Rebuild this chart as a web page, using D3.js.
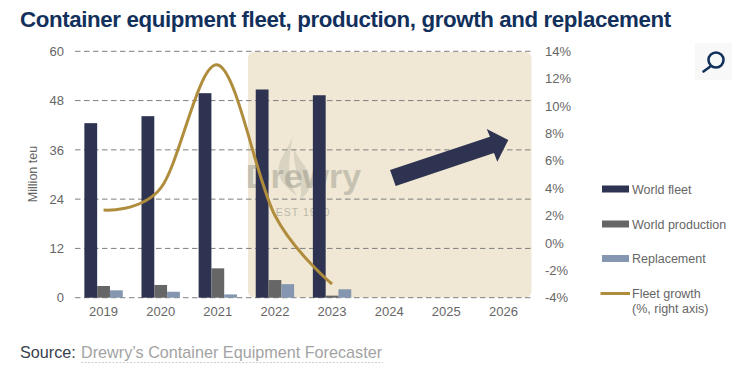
<!DOCTYPE html>
<html>
<head>
<meta charset="utf-8">
<script src="https://cdn.jsdelivr.net/npm/d3@7"></script>
<style>
  html, body { margin: 0; padding: 0; background: #fff; }
  text { font-family: "Liberation Sans", Arial, sans-serif; }
</style>
</head>
<body>
<svg id="drawing_region" width="750" height="375"></svg>
<script>
const years = ["2019", "2020", "2021", "2022", "2023", "2024", "2025", "2026"];
const world_fleet = [42.5, 44.2, 49.8, 50.7, 49.3];
const world_production = [2.85, 3.1, 7.15, 4.3, 0.5];
const replacement = [1.8, 1.45, 0.8, 3.3, 2.05];
const fleet_growth = [2.4, 4.0, 13.0, 2.0, -3.0];
const left_ticks = [0, 12, 24, 36, 48, 60];
const right_ticks = [-4, -2, 0, 2, 4, 6, 8, 10, 12, 14];

const navy = "#2d3350", grey = "#666666", blue = "#8496b0", gold = "#b08d3c";
const text_color = "#666666";

const svg = d3.select("#drawing_region");
const margin = {top: 51.3, left: 75, right: 532, bottom: 297.7};

const xscale = d3.scaleBand().domain(years).range([margin.left, margin.right]);
const yscale = d3.scaleLinear().domain([0, 60]).range([margin.bottom, margin.top]);
const y2scale = d3.scaleLinear().domain([-4, 14]).range([margin.bottom, margin.top]);
const bar_w = 12.8;

svg.append("text")
    .attr("x", 20).attr("y", 27)
    .attr("font-size", 22.3).attr("font-weight", "bold")
    .attr("letter-spacing", -0.38)
    .attr("fill", "#12305c")
    .text("Container equipment fleet, production, growth and replacement");

// forecast panel
svg.append("rect")
    .attr("x", 248).attr("y", 52)
    .attr("width", 283.5).attr("height", 245.5)
    .attr("rx", 6).attr("fill", "#f0e8d4");

// watermark
const mark = svg.append("g").attr("fill", "#8a8a80");
mark.append("path")
    .attr("d", "M293,135 C289,150 276,160 279,174 C281,184 290,190 297,196 C287,180 288,160 293,135 Z M294,147 C296,160 312,168 310,184 C309,192 305,196 300,199 C305,186 292,170 294,147 Z")
    .attr("opacity", 0.22);
mark.append("text")
    .attr("x", 303.5).attr("y", 188)
    .attr("text-anchor", "middle")
    .attr("font-size", 34).attr("font-weight", "bold")
    .attr("opacity", 0.4)
    .text("Drewry");
mark.append("text")
    .attr("x", 303).attr("y", 216)
    .attr("text-anchor", "middle")
    .attr("font-size", 10.5).attr("letter-spacing", 1)
    .attr("opacity", 0.5)
    .text("EST 1970");

// gridlines
svg.append("g").selectAll("line")
    .data(left_ticks)
    .join("line")
    .attr("x1", margin.left).attr("x2", margin.right - 0.5)
    .attr("y1", d => yscale(d)).attr("y2", d => yscale(d))
    .attr("stroke", "#7f7f7f").attr("stroke-width", 1)
    .attr("stroke-dasharray", "5.5 3.5");

// bars
const series = [
    {values: world_fleet, color: navy, offset: -1.5},
    {values: world_production, color: grey, offset: -0.5},
    {values: replacement, color: blue, offset: 0.5}
];
series.forEach(s => {
    svg.append("g").selectAll("rect")
        .data(s.values)
        .join("rect")
        .attr("x", (d, i) => xscale(years[i]) + xscale.bandwidth() / 2 + s.offset * bar_w)
        .attr("y", d => yscale(d))
        .attr("width", bar_w)
        .attr("height", d => yscale(0) - yscale(d))
        .attr("fill", s.color);
});

// growth line
const line = d3.line()
    .x((d, i) => xscale(years[i]) + xscale.bandwidth() / 2)
    .y(d => y2scale(d))
    .curve(d3.curveCatmullRom.alpha(0));
svg.append("path")
    .attr("d", line(fleet_growth))
    .attr("fill", "none")
    .attr("stroke", gold).attr("stroke-width", 3);

// forecast arrow
svg.append("path")
    .attr("d", "M390,170 L490,136.7 L486.7,129 L508.3,140 L497.3,161.7 L494,153 L395.7,186 Z")
    .attr("fill", navy);

// axes
const xaxis = d3.axisBottom(xscale).tickSize(0).tickPadding(0);
const x_group = svg.append("g").attr("transform", `translate(0,${margin.bottom + 9})`).call(xaxis);
const yaxis = d3.axisLeft(yscale).tickValues(left_ticks).tickSize(0).tickPadding(0);
const y_group = svg.append("g").attr("transform", "translate(64,0)").call(yaxis);
const y2axis = d3.axisRight(y2scale).tickValues(right_ticks).tickSize(0).tickPadding(0).tickFormat(d => d + "%");
const y2_group = svg.append("g").attr("transform", "translate(545,0)").call(y2axis);
[x_group, y_group, y2_group].forEach(g => {
    g.select(".domain").remove();
    g.selectAll("text").attr("font-size", 13).attr("fill", text_color)
        .style("font-family", '"Liberation Sans", Arial, sans-serif');
});

svg.append("text")
    .attr("transform", "translate(37,174) rotate(-90)")
    .attr("text-anchor", "middle")
    .attr("font-size", 12.5).attr("fill", text_color)
    .text("Million teu");

// legend
const legend_text = ["World fleet", "World production", "Replacement"];
const legend_color = [navy, grey, blue];
const legend_y = [189, 224, 258.5];
legend_text.forEach((t, i) => {
    svg.append("rect")
        .attr("x", 602).attr("y", legend_y[i] - 3.5)
        .attr("width", 27).attr("height", 7)
        .attr("fill", legend_color[i]);
    svg.append("text")
        .attr("x", 632).attr("y", legend_y[i] + 4.5)
        .attr("font-size", 12.5).attr("fill", text_color)
        .text(t);
});
svg.append("line")
    .attr("x1", 600.5).attr("x2", 630)
    .attr("y1", 293.5).attr("y2", 293.5)
    .attr("stroke", gold).attr("stroke-width", 3);
svg.append("text")
    .attr("x", 632).attr("y", 298)
    .attr("font-size", 12.5).attr("fill", text_color)
    .text("Fleet growth");
svg.append("text")
    .attr("x", 632).attr("y", 312.5)
    .attr("font-size", 12.5).attr("fill", text_color)
    .text("(%, right axis)");

// source
svg.append("text")
    .attr("x", 20).attr("y", 358)
    .attr("font-size", 16.2).attr("fill", "#3a3f4c")
    .text("Source:");
svg.append("text")
    .attr("x", 81).attr("y", 358)
    .attr("font-size", 16.2).attr("fill", "#a3a3a3")
    .text("Drewry\u2019s Container Equipment Forecaster");
svg.append("line")
    .attr("x1", 81).attr("x2", 383)
    .attr("y1", 362.5).attr("y2", 362.5)
    .attr("stroke", "#cfcfcf").attr("stroke-dasharray", "2 1.5");

// magnifier icon
svg.append("rect")
    .attr("x", 695).attr("y", 43)
    .attr("width", 37).attr("height", 37)
    .attr("fill", "#f8f8f8");
svg.append("circle")
    .attr("cx", 716).attr("cy", 60).attr("r", 7.5)
    .attr("fill", "none").attr("stroke", "#12305c").attr("stroke-width", 2.6);
svg.append("line")
    .attr("x1", 711).attr("y1", 66).attr("x2", 703.5).attr("y2", 71.5)
    .attr("stroke", "#12305c").attr("stroke-width", 2.6).attr("stroke-linecap", "round");
</script>
</body>
</html>
